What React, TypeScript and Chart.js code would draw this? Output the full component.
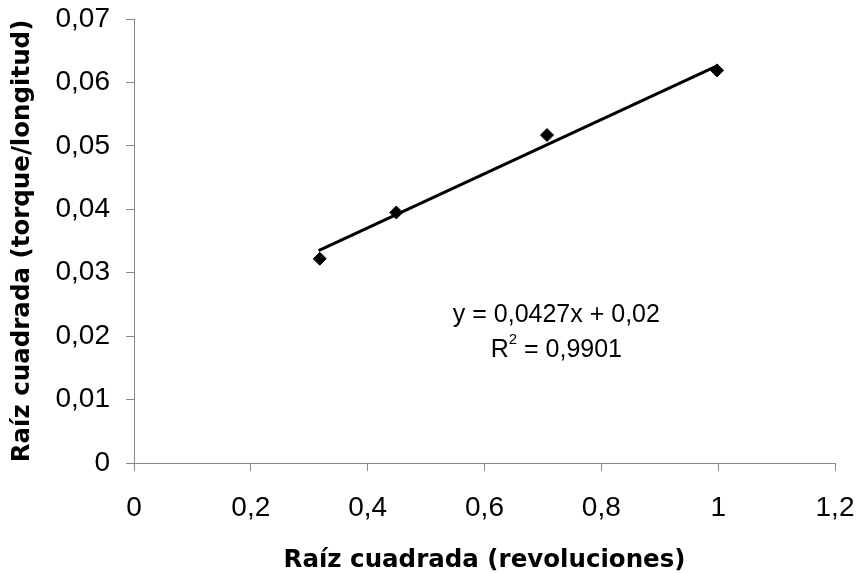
import React, { useEffect, useRef } from "react";
import { Chart, registerables } from "chart.js";

Chart.register(...registerables);

const xValues = [0.318, 0.449, 0.707, 0.998];
const yValues = [0.0322, 0.0395, 0.0517, 0.0619];
const trendX = [0.316, 1.0];
const trendY = [0.0335, 0.0627];
const equationLine1 = "y = 0,0427x + 0,02";
const equationLine2 = ["R", "2", " = 0,9901"];
const equationAt = { x: 0.723, y: 0.0233 };
const xTitle = "Raíz cuadrada (revoluciones)";
const yTitle = "Raíz cuadrada (torque/longitud)";

const FONT = "'Liberation Sans', Arial, sans-serif";
const TITLE_FONT = "'DejaVu Sans', 'Liberation Sans', sans-serif";
const EQ_FONT = "'Liberation Sans', Arial, sans-serif";

const fmt = (v: number) => String(Math.round(v * 1000) / 1000).replace(".", ",");

export default function App() {
  const ref = useRef<HTMLCanvasElement>(null);
  useEffect(() => {
    document.body.style.margin = "0";
    const textPlugin = {
      id: "eqText",
      afterDraw(chart: any) {
        const { ctx, scales } = chart;
        const px = scales.x.getPixelForValue(equationAt.x);
        const py = scales.y.getPixelForValue(equationAt.y);
        ctx.save();
        ctx.fillStyle = "#000";
        ctx.textBaseline = "middle";
        const big = `25px ${EQ_FONT}`;
        const small = `15px ${EQ_FONT}`;
        ctx.font = big;
        ctx.textAlign = "center";
        ctx.fillText(equationLine1, px, py);
        const wR = ctx.measureText(equationLine2[0]).width;
        const wRest = ctx.measureText(equationLine2[2]).width;
        ctx.font = small;
        const w2 = ctx.measureText(equationLine2[1]).width;
        const total = wR + w2 + wRest;
        let x0 = px - total / 2;
        const y2 = py + 35;
        ctx.textAlign = "left";
        ctx.font = big;
        ctx.fillText(equationLine2[0], x0, y2);
        x0 += wR;
        ctx.font = small;
        ctx.fillText(equationLine2[1], x0, y2 - 10);
        x0 += w2;
        ctx.font = big;
        ctx.fillText(equationLine2[2], x0, y2);
        ctx.restore();
      },
    };
    const chart = new Chart(ref.current!, {
      type: "scatter",
      data: {
        datasets: [
          {
            label: "datos",
            data: xValues.map((x, i) => ({ x, y: yValues[i] })),
            pointStyle: "rectRot",
            pointRadius: 6.5,
            backgroundColor: "#000",
            borderColor: "#000",
            showLine: false,
          },
          {
            label: "tendencia",
            data: trendX.map((x, i) => ({ x, y: trendY[i] })),
            showLine: true,
            borderColor: "#000",
            borderWidth: 3,
            pointRadius: 0,
          },
        ],
      },
      plugins: [textPlugin],
      options: {
        animation: false,
        responsive: false,
        layout: { padding: { top: 19, right: 24, left: 0, bottom: 0 } },
        plugins: { legend: { display: false }, tooltip: { enabled: false } },
        scales: {
          x: {
            type: "linear",
            min: 0,
            max: 1.2,
            afterFit: (s: any) => {
              s.height = 110;
              s.paddingLeft = 0;
              s.paddingRight = 0;
            },
            ticks: {
              stepSize: 0.2,
              color: "#000",
              font: { family: FONT, size: 28 },
              padding: 20,
              maxRotation: 0,
              callback: (v: any) => fmt(Number(v)),
            },
            grid: { drawOnChartArea: false, tickLength: 8, color: "#888" },
            border: { color: "#888", width: 1 },
            title: {
              display: true,
              text: xTitle,
              color: "#000",
              font: { family: TITLE_FONT, size: 24.5, weight: "bold" },
              padding: { top: 0, bottom: -2 },
            },
          },
          y: {
            type: "linear",
            min: 0,
            max: 0.07,
            afterFit: (s: any) => {
              s.width = 134;
              s.paddingTop = 0;
              s.paddingBottom = 0;
            },
            ticks: {
              stepSize: 0.01,
              color: "#000",
              font: { family: FONT, size: 28 },
              padding: 16,
              callback: (v: any) => fmt(Number(v)),
            },
            grid: { drawOnChartArea: false, tickLength: 8, color: "#888" },
            border: { color: "#888", width: 1 },
            title: {
              display: true,
              text: yTitle,
              color: "#000",
              font: { family: TITLE_FONT, size: 24.5, weight: "bold" },
              padding: { top: 8, bottom: 0 },
            },
          },
        },
      },
    });
    return () => chart.destroy();
  }, []);
  return (
    <div style={{ width: 859, height: 573, background: "#fff" }}>
      <canvas ref={ref} width={859} height={573} />
    </div>
  );
}
